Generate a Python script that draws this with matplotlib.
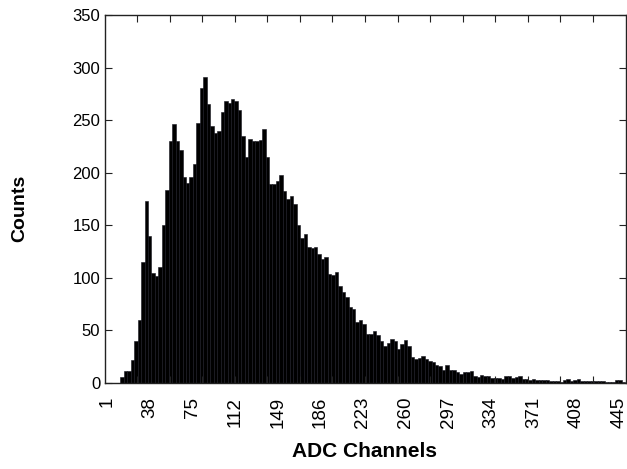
import numpy as np
import matplotlib
matplotlib.use("Agg")
import matplotlib.pyplot as plt

plt.rcParams['font.family'] = ['Liberation Sans', 'DejaVu Sans']

# 3-channel bins starting at ADC channel 13
bin_width = 3
first_channel = 13
counts = [6, 11, 11, 22, 40, 60, 115, 173, 140, 105, 102, 110, 150, 184, 230, 246,
          230, 222, 196, 190, 196, 208, 247, 281, 291, 265, 244, 238, 240, 258, 268,
          266, 270, 268, 260, 235, 215, 232, 230, 230, 231, 242, 215, 189, 189, 192,
          198, 183, 175, 178, 170, 150, 138, 142, 129, 128, 129, 123, 118, 120, 104,
          103, 106, 92, 87, 82, 72, 70, 58, 60, 56, 47, 47, 49, 46, 40, 35, 38, 42,
          40, 32, 37, 41, 35, 25, 23, 24, 26, 23, 21, 20, 17, 16, 12, 17, 12, 12,
          10, 9, 10, 10, 11, 7, 6, 8, 7, 7, 5, 5, 5, 4, 7, 7, 5, 6, 7, 4, 4, 3, 4,
          3, 3, 3, 3, 2, 2, 2, 1, 3, 4, 2, 3, 4, 2, 2, 2, 2, 2, 2, 2, 1, 1, 1, 3, 3, 1]

xtick_labels = [1, 38, 75, 112, 149, 186, 223, 260, 297, 334, 371, 408, 445]
ytick_values = [0, 50, 100, 150, 200, 250, 300, 350]

starts = first_channel + bin_width * np.arange(len(counts))
centers = starts + (bin_width - 1) / 2.0

fig = plt.figure(figsize=(6.27, 4.69), dpi=100)
ax = fig.add_axes([104.5 / 627, 86 / 469, 521 / 627, 368 / 469])

ax.bar(centers, counts, width=bin_width, color='black', edgecolor='#15151f',
       linewidth=0.4, align='center', zorder=1)

xmin, xmax = -1.2, 450.7
ax.set_xlim(xmin, xmax)
ax.set_ylim(0, 350)

# labels at category positions (no marks); tick marks evenly spaced
ax.set_xticks(xtick_labels)
ax.set_xticklabels([str(v) for v in xtick_labels], rotation=90, fontsize=13.5)
ax.set_xticks(np.linspace(xmin, xmax, 17)[1:-1], minor=True)
ax.tick_params(axis='x', which='major', length=0, pad=10)
ax.tick_params(axis='x', which='minor', direction='in', top=True, bottom=True,
               length=5, width=0.8, colors='#222222')

ax.set_yticks(ytick_values)
ax.set_yticklabels([str(v) for v in ytick_values], fontsize=12)
ax.tick_params(axis='y', direction='in', left=True, right=True, length=5,
               width=0.8, pad=3, colors='#222222', labelcolor='black')
for s in ax.spines.values():
    s.set_linewidth(1.0)
    s.set_color('#222222')

ax.set_xlabel('ADC Channels', fontsize=15, fontweight='bold')
ax.xaxis.set_label_coords(0.5, -0.185)
ax.xaxis.label.set_va('center')
ax.set_ylabel('Counts', fontsize=14, fontweight='bold')
ax.yaxis.set_label_coords(-0.162, 0.475)
ax.yaxis.label.set_va('center')

fig.savefig('out.png', dpi=100)
